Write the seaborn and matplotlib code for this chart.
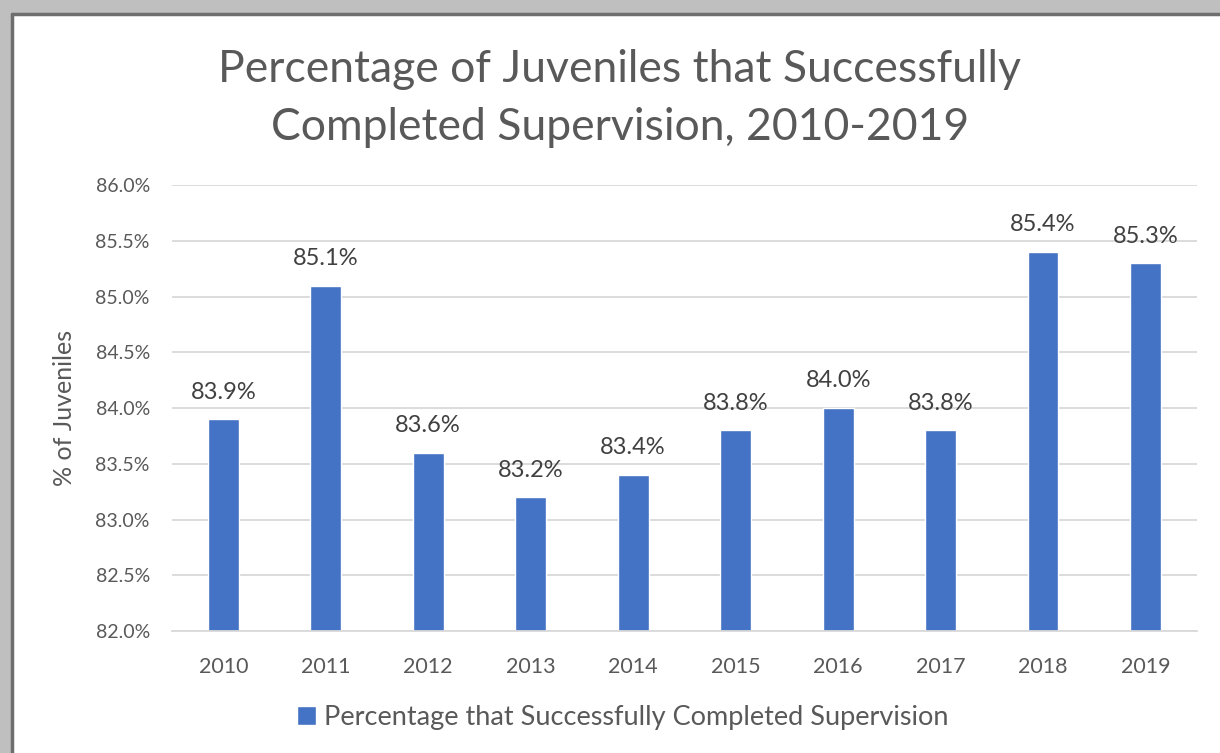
import matplotlib
matplotlib.use("Agg")
import matplotlib.pyplot as plt
import matplotlib.patches as mpatches
import pandas as pd
import seaborn as sns

# Chart data
years = ["2010", "2011", "2012", "2013", "2014", "2015", "2016", "2017", "2018", "2019"]
pct_completed = [83.9, 85.1, 83.6, 83.2, 83.4, 83.8, 84.0, 83.8, 85.4, 85.3]
series_name = "Percentage that Successfully Completed Supervision"
y_ticks = [82.0, 82.5, 83.0, 83.5, 84.0, 84.5, 85.0, 85.5, 86.0]

df = pd.DataFrame({"year": years, "pct": pct_completed})

sns.set_theme(style="white")
plt.rcParams["font.family"] = ["Lato", "DejaVu Sans"]

text_grey = "#595959"
bar_blue = "#4472C4"

fig = plt.figure(figsize=(12.2, 7.53), dpi=100)
ax = fig.add_axes([0.141, 0.162, 0.84, 0.592])

sns.barplot(data=df, x="year", y="pct", color=bar_blue, width=0.3,
            saturation=1, ax=ax, label=series_name)

ax.set_ylim(82, 86)
ax.set_yticks(y_ticks)
ax.set_yticklabels([f"{t:.1f}%" for t in y_ticks])
ax.yaxis.grid(True, color="#D9D9D9", linewidth=1.3)
ax.set_axisbelow(True)
for side in ["top", "right", "left"]:
    ax.spines[side].set_visible(False)
ax.spines["bottom"].set_color("#D9D9D9")
ax.spines["bottom"].set_linewidth(1.3)
ax.tick_params(axis="y", length=0, labelsize=14, labelcolor=text_grey, pad=16)
ax.tick_params(axis="x", length=0, labelsize=15.5, labelcolor=text_grey, pad=19)
ax.set_xlabel("")
ax.set_ylabel("% of Juveniles", fontsize=18, color=text_grey, labelpad=14)

ax.bar_label(ax.containers[0], labels=[f"{v:.1f}%" for v in pct_completed],
             padding=12, fontsize=17, color="#404040")

fig.text(0.508, 0.869, "Percentage of Juveniles that Successfully\nCompleted Supervision, 2010-2019",
         ha="center", va="center", fontsize=32, color=text_grey, linespacing=1.52)

leg = ax.legend(loc="center", bbox_to_anchor=(0.44, -0.195), frameon=False,
                fontsize=19.5, handlelength=0.7, handleheight=0.7, handletextpad=0.3)
for t in leg.get_texts():
    t.set_color(text_grey)

# grey frame around the chart area
fig.patches.append(mpatches.Rectangle((0, 0.982), 1, 0.018, transform=fig.transFigure,
                                      color="#BFBFBF", zorder=0))
fig.patches.append(mpatches.Rectangle((0, 0), 0.01, 1, transform=fig.transFigure,
                                      color="#BFBFBF", zorder=0))
fig.add_artist(plt.Line2D([0.01, 1], [0.982, 0.982], transform=fig.transFigure,
                          color="#6E6E6E", linewidth=2.5))
fig.add_artist(plt.Line2D([0.01, 0.01], [0, 0.982], transform=fig.transFigure,
                          color="#6E6E6E", linewidth=2.5))

fig.savefig("out.png", dpi=100)
